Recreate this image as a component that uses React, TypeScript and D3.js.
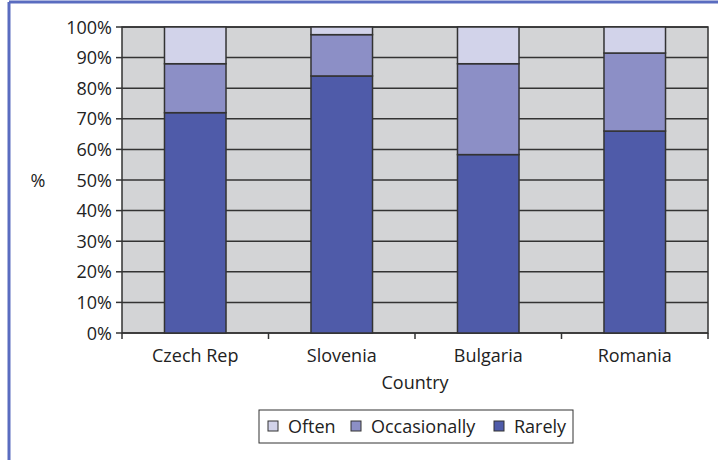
import React from "react";
import * as d3 from "d3";

const categories = ["Czech Rep", "Slovenia", "Bulgaria", "Romania"];
const seriesNames = ["Rarely", "Occasionally", "Often"];
const rarely = [72, 84, 58.3, 66];
const occasionally = [16, 13.5, 29.7, 25.5];
const often = [12, 2.5, 12, 8.5];
const yTicks = [0, 10, 20, 30, 40, 50, 60, 70, 80, 90, 100];
const legendOrder = ["Often", "Occasionally", "Rarely"];

const colors: Record<string, string> = {
  Rarely: "#4f5ba9",
  Occasionally: "#8c8fc6",
  Often: "#d2d3ea",
};

export default function App() {
  const W = 718, H = 460;
  const left = 122, right = 708, top = 27, bottom = 333;
  const font = "'Open Sans', 'DejaVu Sans', sans-serif";
  const fs = 18;
  const x = d3.scaleBand<string>().domain(categories).range([left, right]).paddingInner(0.58).paddingOuter(0.29);
  const xb = d3.scaleBand<string>().domain(categories).range([left, right]);
  const y = d3.scaleLinear().domain([0, 100]).range([bottom, top]);

  const rows = categories.map((c, i) => ({ cat: c, Rarely: rarely[i], Occasionally: occasionally[i], Often: often[i] }));
  const stacked = d3.stack<any>().keys(seriesNames)(rows);

  const legendItems = legendOrder.map((n, i) => ({ n, x: [268, 351, 494][i] }));

  return (
    <svg width={W} height={H} style={{ position: "absolute", left: 0, top: 0 }}>
      <rect x={0} y={0} width={W} height={H} fill="#fff" />
      <line x1={9} y1={2} x2={W} y2={2} stroke="#5a6cc0" strokeWidth={3} />
      <line x1={9} y1={2} x2={9} y2={H} stroke="#5a6cc0" strokeWidth={3} />
      <rect x={left} y={top} width={right - left} height={bottom - top} fill="#d3d4d6" stroke="#333" strokeWidth={1.5} />
      {yTicks.map((t) => (
        <g key={t}>
          <line x1={left} x2={right} y1={y(t)} y2={y(t)} stroke="#333" strokeWidth={1.5} />
          <line x1={left - 6} x2={left} y1={y(t)} y2={y(t)} stroke="#333" strokeWidth={1.5} />
          <text x={112} y={y(t) + 6.5} textAnchor="end" fontFamily={font} fontSize={fs} fill="#222">{t}%</text>
        </g>
      ))}
      {categories.map((c) => (
        <line key={c} x1={xb(c)!} x2={xb(c)!} y1={bottom} y2={bottom + 6} stroke="#333" strokeWidth={1.5} />
      ))}
      <line x1={right} x2={right} y1={bottom} y2={bottom + 6} stroke="#333" strokeWidth={1.5} />
      {stacked.map((s) => (
        <g key={s.key}>
          {s.map((d, i) => (
            <rect key={i} x={x(categories[i])!} y={y(d[1])} width={x.bandwidth()} height={y(d[0]) - y(d[1])}
              fill={colors[s.key]} stroke="#333" strokeWidth={1.5} />
          ))}
        </g>
      ))}
      {categories.map((c) => (
        <text key={c} x={xb(c)! + xb.bandwidth() / 2} y={362} textAnchor="middle" fontFamily={font} fontSize={fs} fill="#222">{c}</text>
      ))}
      <text x={(left + right) / 2} y={389} textAnchor="middle" fontFamily={font} fontSize={fs} fill="#222">Country</text>
      <text x={38} y={187} textAnchor="middle" fontFamily={font} fontSize={fs} fill="#222">%</text>
      <rect x={259} y={410} width={314} height={33} fill="#fff" stroke="#333" strokeWidth={1} />
      {legendItems.map((it) => (
        <g key={it.n}>
          <rect x={it.x} y={421} width={10} height={10} fill={colors[it.n]} stroke="#333" strokeWidth={1} />
          <text x={it.x + 20} y={433} fontFamily={font} fontSize={fs} fill="#222">{it.n}</text>
        </g>
      ))}
    </svg>
  );
}
